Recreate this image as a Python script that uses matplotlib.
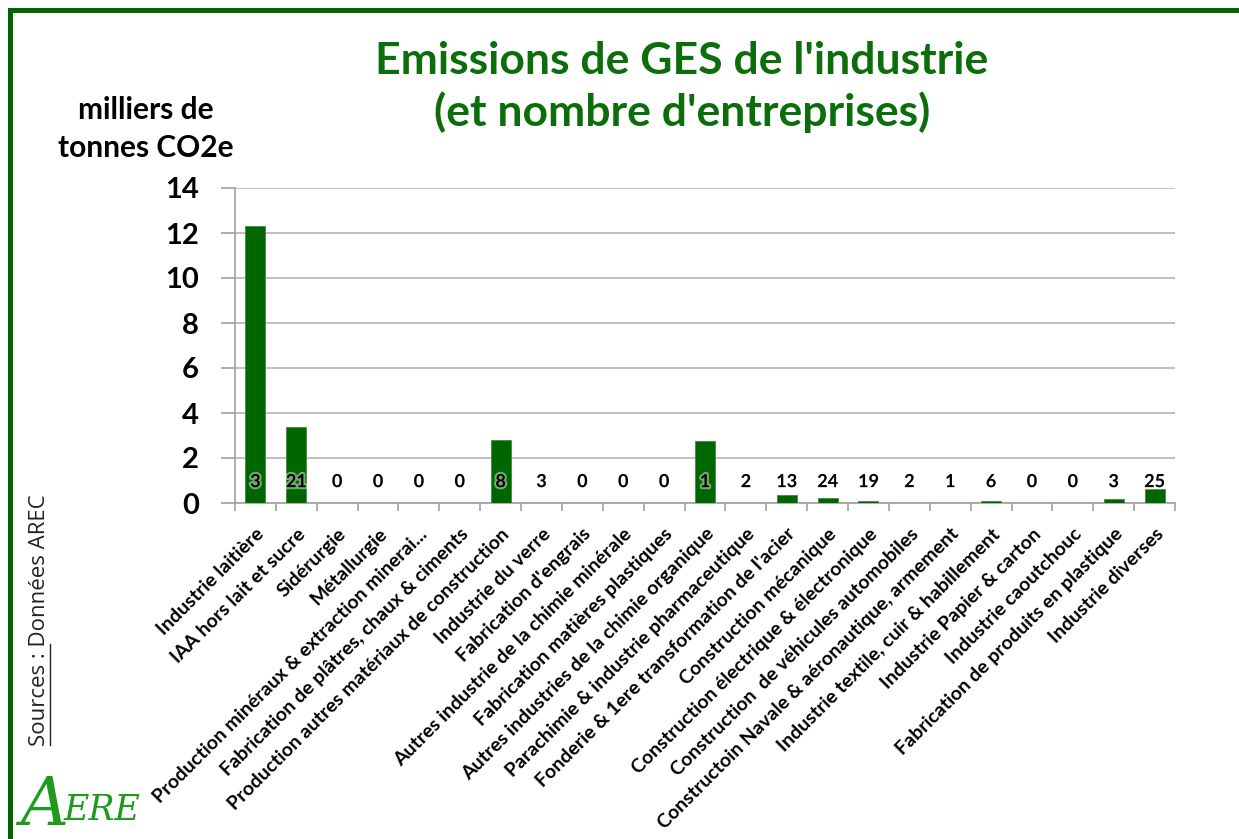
import matplotlib.pyplot as plt
import matplotlib.patheffects as pe
from matplotlib.lines import Line2D

plt.rcParams['font.family'] = ['Lato', 'DejaVu Sans']

# secteurs, emissions (milliers de tonnes CO2e) et nombre d'entreprises
secteurs = [
    "Industrie laitière",
    "IAA hors lait et sucre",
    "Sidérurgie",
    "Métallurgie",
    "Production minéraux & extraction minerai...",
    "Fabrication de plâtres, chaux & ciments",
    "Production autres matériaux de construction",
    "Industrie du verre",
    "Fabrication d'engrais",
    "Autres industrie de la chimie minérale",
    "Fabrication matières plastiques",
    "Autres industries de la chimie organique",
    "Parachimie & industrie pharmaceutique",
    "Fonderie & 1ere transformation de l'acier",
    "Construction mécanique",
    "Construction électrique & électronique",
    "Construction  de véhicules automobiles",
    "Constructoin Navale & aéronautique, armement",
    "Industrie textile, cuir & habillement",
    "Industrie Papier & carton",
    "Industrie caoutchouc",
    "Fabrication de produits en plastique",
    "Industrie diverses",
]
emissions = [12.3, 3.4, 0, 0, 0, 0, 2.8, 0, 0, 0, 0, 2.75, 0, 0.36, 0.22,
             0.1, 0, 0, 0.1, 0, 0, 0.19, 0.62]
nb_entreprises = [3, 21, 0, 0, 0, 0, 8, 3, 0, 0, 0, 1, 2, 13, 24, 19, 2, 1,
                  6, 0, 0, 3, 25]
yticks = [0, 2, 4, 6, 8, 10, 12, 14]

VERT = '#006600'
W, H = 1239, 839

fig = plt.figure(figsize=(W / 100, H / 100), dpi=100)
ax = fig.add_axes([235 / W, 1 - 503 / H, 940 / W, 315 / H])

x = range(len(secteurs))
ax.bar(x, emissions, width=0.49, color=VERT, edgecolor='#3d8f3d', linewidth=0.6, zorder=3)

for i, n in enumerate(nb_entreprises):
    ax.text(i, 0.95, str(n), ha='center', va='center', fontsize=13, fontweight='bold',
            color='black', zorder=4,
            path_effects=[pe.withStroke(linewidth=3, foreground='white', alpha=0.45)])

ax.set_xlim(-0.5, len(secteurs) - 0.5)
ax.set_ylim(0, 14)
ax.set_yticks(yticks)
ax.set_yticklabels([str(v) for v in yticks], fontsize=21, fontweight='bold')
ax.yaxis.grid(True, color='#b4b4b4', linewidth=1.2, zorder=0)
ax.set_axisbelow(True)

# ticks aux limites des categories, libelles au centre
ax.set_xticks([i - 0.5 for i in range(len(secteurs) + 1)])
ax.set_xticklabels([])
ax.set_xticks(list(x), minor=True)
ax.set_xticklabels(secteurs, minor=True, rotation=45, ha='right', rotation_mode='anchor',
                   fontsize=14, fontweight='bold')
ax.tick_params(axis='x', which='minor', length=0, pad=16)
ax.tick_params(axis='x', which='major', length=6, color='#a0a0a0', width=1.2)
ax.tick_params(axis='y', length=10, color='#a0a0a0', width=1.2, pad=16)

for s in ['top', 'right']:
    ax.spines[s].set_visible(False)
for s in ['left', 'bottom']:
    ax.spines[s].set_color('#a0a0a0')
    ax.spines[s].set_linewidth(1.2)

fig.text(682 / W, 1 - 87 / H, "Emissions de GES de l'industrie\n(et nombre d'entreprises)",
         ha='center', va='center', fontsize=32, fontweight='bold', color='#0b6e0b',
         linespacing=1.28)
fig.text(146 / W, 1 - 129 / H, "milliers de\ntonnes CO2e", ha='center', va='center',
         fontsize=21.5, fontweight='bold', linespacing=1.45)

# sources
fig.text(40 / W, 1 - 620 / H, "Sources : Données AREC", rotation=90, ha='center', va='center',
         fontsize=16, family=['Open Sans', 'DejaVu Sans'], color='#222222')
fig.add_artist(Line2D([50 / W, 50 / W], [1 - 745 / H, 1 - 644 / H], color='#222222',
                      linewidth=1, transform=fig.transFigure))

# logo
fig.text(20 / W, 1 - 806 / H, "A", fontsize=48, style='italic', color='#1f9a1f',
         family=['DejaVu Serif'], ha='left', va='center')
fig.text(64 / W, 1 - 810 / H, "ERE", fontsize=25, style='italic', color='#1f9a1f',
         family=['DejaVu Serif'], ha='left', va='center')

# cadre vert
fig.add_artist(Line2D([10 / W, 10 / W, 1], [0, 1 - 10 / H, 1 - 10 / H], color=VERT,
                      linewidth=3.6, transform=fig.transFigure, solid_joinstyle='miter'))

fig.savefig('out.png', dpi=100)
